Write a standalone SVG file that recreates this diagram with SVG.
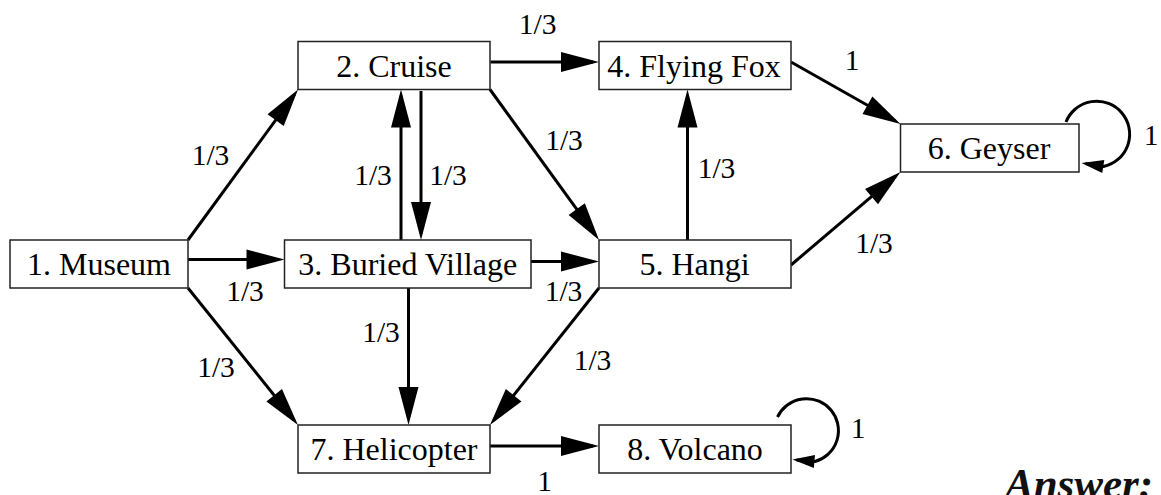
<svg xmlns="http://www.w3.org/2000/svg" width="1161" height="495" viewBox="0 0 1161 495">
<defs>
<marker id="arr" markerUnits="userSpaceOnUse" markerWidth="38" markerHeight="20" refX="32" refY="10" orient="auto" overflow="visible">
<path d="M0,0 L38,10 L0,20 z" fill="#000"/>
</marker>
<marker id="arrs" markerUnits="userSpaceOnUse" markerWidth="22" markerHeight="13" refX="18" refY="6.5" orient="auto" overflow="visible">
<path d="M0,0 L22,6.5 L0,13 z" fill="#000"/>
</marker>
</defs>
<rect width="1161" height="495" fill="#fff"/>
<g id="connectors" fill="none" stroke="#000" stroke-width="3">
<g marker-end="url(#arr)">
<line x1="188" y1="240" x2="294.5" y2="94.3"/>
<line x1="188" y1="259.5" x2="278.5" y2="259.5"/>
<line x1="188" y1="288" x2="294.2" y2="420.3"/>
<line x1="490.5" y1="62" x2="593" y2="62"/>
<line x1="490" y1="89.5" x2="595.5" y2="235.1"/>
<line x1="401" y1="240" x2="401" y2="95.5"/>
<line x1="421" y1="91" x2="421" y2="234"/>
<line x1="531" y1="261.5" x2="593" y2="261.5"/>
<line x1="408.5" y1="288" x2="408.5" y2="419"/>
<line x1="687.5" y1="240" x2="687.5" y2="95.5"/>
<line x1="599" y1="288" x2="493.7" y2="420.3"/>
<line x1="791" y1="62" x2="895.3" y2="121"/>
<line x1="791" y1="265" x2="895.9" y2="175.9"/>
<line x1="490" y1="446" x2="593" y2="446"/>
</g>
<g marker-end="url(#arrs)">
<path d="M1066,122 A33,33 0 1 1 1103.5,166.5 L1085.5,163.6"/>
<path d="M777.5,417 A32,32 0 1 1 815,461.5 L796.5,459.9"/>
</g>
</g>
<g id="edge-labels" font-family="Liberation Serif" font-size="29.5" fill="#000" text-anchor="middle">
<text x="537.7" y="34">1/3</text>
<text x="210.5" y="165">1/3</text>
<text x="564" y="150">1/3</text>
<text x="373" y="185">1/3</text>
<text x="448" y="185">1/3</text>
<text x="852" y="70">1</text>
<text x="1151" y="145">1</text>
<text x="716.5" y="178">1/3</text>
<text x="874" y="253">1/3</text>
<text x="245" y="301">1/3</text>
<text x="563.5" y="301">1/3</text>
<text x="381" y="341.5">1/3</text>
<text x="216" y="376.5">1/3</text>
<text x="592.5" y="370">1/3</text>
<text x="544.5" y="491">1</text>
<text x="858" y="438">1</text>
</g>
<g id="nodes" font-family="Liberation Serif" font-size="32" text-anchor="middle">
<g id="n1"><rect x="10" y="240" width="178" height="48" fill="#fff" stroke="#222" stroke-width="1.5"/><text x="99" y="275">1. Museum</text></g>
<g id="n2"><rect x="298" y="41.5" width="192" height="48" fill="#fff" stroke="#222" stroke-width="1.5"/><text x="394" y="76.5">2. Cruise</text></g>
<g id="n3"><rect x="284.5" y="240" width="246.5" height="48" fill="#fff" stroke="#222" stroke-width="1.5"/><text x="407.7" y="275">3. Buried Village</text></g>
<g id="n4"><rect x="599" y="41.5" width="192" height="48" fill="#fff" stroke="#222" stroke-width="1.5"/><text x="694" y="76.5">4. Flying Fox</text></g>
<g id="n5"><rect x="599" y="240" width="192" height="48" fill="#fff" stroke="#222" stroke-width="1.5"/><text x="694.5" y="275">5. Hangi</text></g>
<g id="n6"><rect x="900.5" y="124" width="178.5" height="48" fill="#fff" stroke="#222" stroke-width="1.5"/><text x="989" y="159">6. Geyser</text></g>
<g id="n7"><rect x="298" y="425" width="192" height="48" fill="#fff" stroke="#222" stroke-width="1.5"/><text x="394" y="460">7. Helicopter</text></g>
<g id="n8"><rect x="599" y="425" width="192" height="48" fill="#fff" stroke="#222" stroke-width="1.5"/><text x="695" y="460">8. Volcano</text></g>
</g>
<text font-family="Liberation Serif" font-size="43" font-weight="bold" font-style="italic" fill="#111" x="1005" y="498">Answer:</text>
</svg>
